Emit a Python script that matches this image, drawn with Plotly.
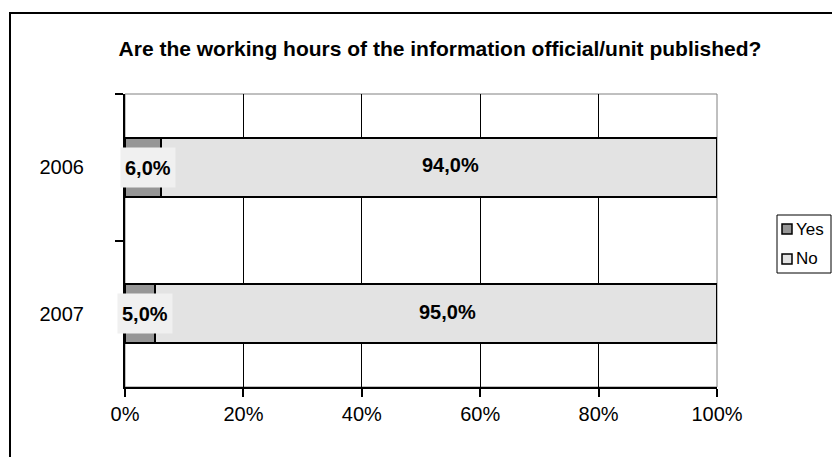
import plotly.graph_objects as go

# data
years = ["2006", "2007"]
yes_vals = [0.06, 0.05]
no_vals = [0.94, 0.95]
x_ticks = [0, 0.2, 0.4, 0.6, 0.8, 1.0]
series_names = ["Yes", "No"]
series_colors = ["#969696", "#e3e3e3"]

FONT = "Liberation Sans, Arial, sans-serif"

# the page has an 8px body margin, so the figure is a bit smaller than the window
W, H = 832, 449
PL, PR, PT, PB = 125, 717, 94, 387  # plot area in window pixels


def px(sx):
    return (sx - PL) / (PR - PL)


def py(sy):
    return (PB - sy) / (PB - PT)


def pct_label(v):
    return f"{v * 100:.1f}%".replace(".", ",")


fig = go.Figure()
for name, vals, col in zip(series_names, [yes_vals, no_vals], series_colors):
    fig.add_trace(go.Bar(
        y=years, x=vals, name=name, orientation="h",
        marker=dict(color=col, line=dict(color="black", width=2)),
        showlegend=False,
    ))

# data labels with light boxes, like the Excel original
# (category positions given by index so "2006" is not read as a number)
annotations = []
for i, (yv, nv) in enumerate(zip(yes_vals, no_vals)):
    annotations.append(dict(
        x=yv / 2, y=i, xref="x", yref="y", text=f"<b>{pct_label(yv)}</b>",
        showarrow=False, font=dict(family=FONT, size=20, color="black"),
        bgcolor="#f0f0f0", borderpad=4, height=31, xshift=5,
    ))
    annotations.append(dict(
        x=yv + nv / 2, y=i, xref="x", yref="y", text=f"<b>{pct_label(nv)}</b>",
        showarrow=False, font=dict(family=FONT, size=20, color="black"),
        xshift=12, yshift=2,
    ))

shapes = [
    # gray top/right edge of plot area
    dict(type="rect", xref="x domain", yref="y domain", x0=0, x1=1, y0=0, y1=1,
         line=dict(color="#808080", width=1), layer="below"),
    # outer chart border (runs off the right and bottom edges)
    dict(type="rect", xref="paper", yref="paper",
         x0=px(10), x1=px(860), y0=py(480), y1=py(13),
         line=dict(color="black", width=2)),
    # legend frame
    dict(type="rect", xref="paper", yref="paper",
         x0=px(777), x1=px(831), y0=py(273), y1=py(215),
         line=dict(color="black", width=1), fillcolor="white"),
]

# Excel-style legend: small squares with the series names
for k, (name, col) in enumerate(zip(series_names, series_colors)):
    cy = 229 + 30 * k
    shapes.append(dict(
        type="rect", xref="paper", yref="paper",
        x0=px(782), x1=px(792), y0=py(cy + 5), y1=py(cy - 5),
        line=dict(color="black", width=1.5), fillcolor=col,
    ))
    annotations.append(dict(
        x=px(794), y=py(cy), xref="paper", yref="paper", text=name,
        xanchor="left", yanchor="middle", showarrow=False,
        font=dict(family=FONT, size=17, color="black"),
    ))

fig.update_layout(
    width=W, height=H,
    margin=dict(l=PL - 8, r=W - (PR - 8), t=PT - 8, b=H - (PB - 8), autoexpand=False),
    paper_bgcolor="white", plot_bgcolor="white",
    barmode="stack", bargap=0.6,
    font=dict(family=FONT, size=20, color="black"),
    title=dict(
        text="<b>Are the working hours of the information official/unit published?</b>",
        x=(440 - 8) / W, xref="container", xanchor="center",
        y=1 - (49 - 8) / H, yref="container", yanchor="middle",
        font=dict(family=FONT, size=21, color="black"),
    ),
    xaxis=dict(
        range=[0, 1], tickvals=x_ticks, tickformat=".0%",
        showgrid=True, gridcolor="black", gridwidth=1,
        showline=True, linecolor="black", linewidth=2,
        ticks="outside", ticklen=8, tickwidth=2, tickcolor="black",
        zeroline=False, fixedrange=True, automargin=False,
    ),
    yaxis=dict(
        type="category", range=[1.5, -0.5], autorange=False,
        showline=True, linecolor="black", linewidth=2,
        ticks="outside", ticklen=8, tickwidth=2, tickcolor="black",
        tickson="boundaries", showgrid=False, ticklabelstandoff=35,
        fixedrange=True, automargin=False,
    ),
    showlegend=False,
    annotations=annotations,
    shapes=shapes,
)

fig.write_html("out.html")
